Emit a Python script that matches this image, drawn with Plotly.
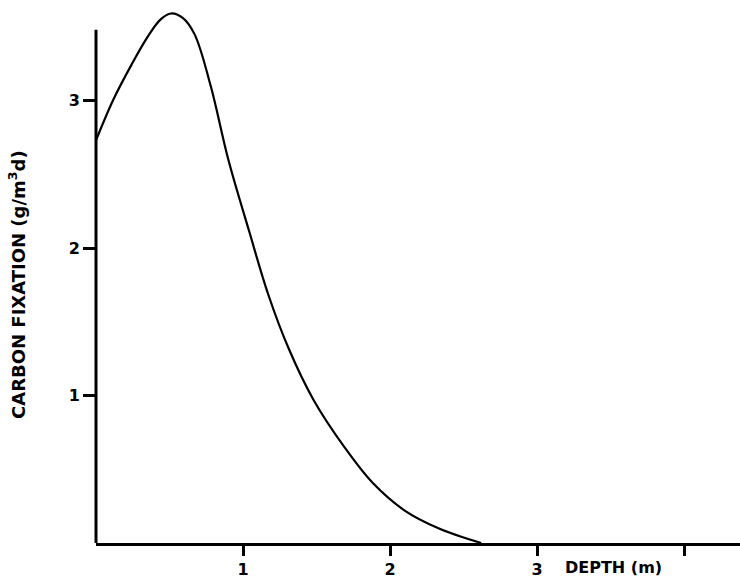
import plotly.graph_objects as go

# Data
depth = [0.0, 0.12, 0.24, 0.35, 0.44, 0.51, 0.59, 0.67, 0.78, 0.90, 1.04, 1.17, 1.31, 1.48, 1.69, 1.88, 2.10, 2.33, 2.62]
carbon = [2.73, 3.01, 3.24, 3.43, 3.55, 3.59, 3.56, 3.45, 3.10, 2.60, 2.12, 1.69, 1.32, 0.97, 0.65, 0.41, 0.22, 0.10, 0.0]

x_ticks = [1, 2, 3, 4]
x_tick_labels = ["1", "2", "3", ""]
y_ticks = [1, 2, 3]
y_tick_labels = ["1", "2", "3"]

W, H = 740, 581
ML, MR, MT, MB = 96, 0, 0, 38
px_per_x = 147.0
px_per_y = 147.5
plot_w = W - ML - MR
plot_h = H - MT - MB
x_max = plot_w / px_per_x
y_max = plot_h / px_per_y
y_axis_top = 3.48

FONT = "DejaVu Sans"

fig = go.Figure()
fig.add_trace(go.Scatter(
    x=depth, y=carbon, mode="lines",
    line=dict(color="black", width=2.2, shape="spline", smoothing=1.0),
    hoverinfo="skip", showlegend=False,
))

fig.update_layout(
    width=W, height=H,
    margin=dict(l=ML, r=MR, t=MT, b=MB, pad=0),
    paper_bgcolor="white", plot_bgcolor="white",
    font=dict(family=FONT, color="black", size=16),
    xaxis=dict(
        range=[0, x_max], showgrid=False, zeroline=False,
        showline=True, linecolor="black", linewidth=3,
        ticks="outside", ticklen=10, tickwidth=3, tickcolor="black",
        tickvals=x_ticks, ticktext=x_tick_labels,
        tickfont=dict(family=FONT, size=16, weight="bold"),
        fixedrange=True,
    ),
    yaxis=dict(
        range=[0, y_max], showgrid=False, zeroline=False,
        showline=False,
        ticks="outside", ticklen=12, tickwidth=2.5, tickcolor="black",
        tickvals=y_ticks, ticktext=y_tick_labels,
        tickfont=dict(family=FONT, size=16, weight="bold"),
        fixedrange=True,
    ),
    shapes=[dict(
        type="line", xref="paper", yref="paper",
        x0=0, x1=0, y0=0, y1=y_axis_top / y_max,
        line=dict(color="black", width=3),
    )],
    annotations=[
        dict(
            text="CARBON FIXATION (g/m<sup>3</sup>d)",
            xref="paper", yref="paper",
            x=(17 - ML) / plot_w, y=(plot_h - 285) / plot_h,
            xanchor="center", yanchor="middle",
            textangle=-90, showarrow=False,
            font=dict(family=FONT, size=18, weight="bold"),
        ),
        dict(
            text="DEPTH (m)",
            xref="paper", yref="paper",
            x=(613 - ML) / plot_w, y=0, yshift=-(567 - plot_h),
            xanchor="center", yanchor="middle",
            showarrow=False,
            font=dict(family=FONT, size=16, weight="bold"),
        ),
    ],
)

fig.write_html("out.html", config={"displayModeBar": False})
